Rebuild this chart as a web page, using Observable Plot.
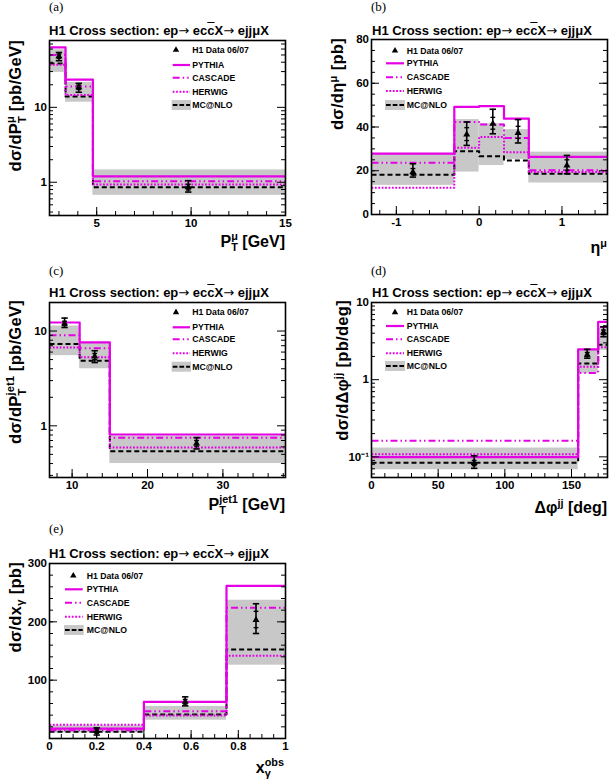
<!DOCTYPE html>
<html><head><meta charset="utf-8">
<script src="https://cdn.jsdelivr.net/npm/d3@7"></script>
<script src="https://cdn.jsdelivr.net/npm/@observablehq/plot@0.6"></script>
<style>
html,body{margin:0;padding:0;background:#fff}
#root{position:relative;width:610px;height:780px;overflow:hidden;font-family:"Liberation Sans",Arial,Helvetica,sans-serif;color:#000}
#root svg{position:absolute;overflow:visible}
.abs{position:absolute;white-space:nowrap}
.ttl{font-weight:bold;font-size:13px;line-height:1}
.arr{font-family:"DejaVu Sans",sans-serif;font-weight:normal}
.lbl{font-family:"Liberation Serif","Times New Roman",serif;font-size:13px;line-height:1}
.ax{font-weight:bold;font-size:16px;line-height:18px;height:18px}
.yt{transform-origin:0 0;transform:rotate(-90deg);width:220px;text-align:right;font-size:16.5px;letter-spacing:0.3px}
.ss{display:inline-block;font-size:.68em;line-height:1.03;vertical-align:-0.37em;text-align:left;letter-spacing:0}
.sp{font-size:.68em;vertical-align:0.55em}
.sb{font-size:.68em;vertical-align:-0.3em}
.ov{text-decoration:overline}
</style></head><body><div id="root"></div><script>
// ---------------- data ----------------
const modelNames = ["PYTHIA", "CASCADE", "HERWIG", "MC@NLO"];
const legendDataLabel = "H1 Data 06/07";
const titleParts = ["H1 Cross section: ep", "→", " ec", "c", "X", "→", " ejjμX"];

// (a) P_T^mu
const aEdges = [2.5, 3.35, 4.8, 15];
const aPythia = [63, 23.4, 1.2];
const aCascade = [50, 19, 1.03];
const aHerwig = [37, 14.6, 0.93];
const aMcnlo = [38.5, 14, 0.86];
const aBandLo = [29.3, 11.7, 0.67];
const aBandHi = [58.8, 21.5, 1.46];
const aDataX = [3.0, 4.05, 9.85];
const aData = [48, 18.5, 0.86];
const aTotLo = [41.9, 15.9, 0.74];
const aTotHi = [54, 20.9, 1.05];
const aStatLo = [45, 17.3, 0.79];
const aStatHi = [51.5, 19.8, 0.94];
const aXTicks = [5, 10, 15];
const aYTicks = [1, 10];

// (b) eta^mu
const bEdges = [-1.3, -0.3, 0, 0.3, 0.6, 1.55];
const bPythia = [27.8, 49.2, 49.5, 43.8, 26.3];
const bCascade = [23.7, 42.3, 41.1, 35, 20.2];
const bHerwig = [12.2, 30.5, 35.4, 28.5, 19.4];
const bMcnlo = [18.2, 28.9, 26.6, 24.7, 18.6];
const bBandLo = [13.3, 19.4, 22.4, 25.2, 14.4];
const bBandHi = [27.5, 43.4, 41.5, 38.8, 28.5];
const bDataX = [-0.8, -0.15, 0.165, 0.47, 1.06];
const bData = [19.4, 36.6, 41.5, 37.3, 22.4];
const bTotLo = [17.1, 31.6, 36.9, 32.7, 18.6];
const bTotHi = [23.2, 42.3, 48.1, 43.4, 27];
const bStatLo = [18.2, 33.8, 39.0, 34.8, 20.3];
const bStatHi = [21.0, 39.7, 44.4, 40.3, 25];
const bXTicks = [-1, 0, 1];
const bYTicks = [0, 20, 40, 60, 80];

// (c) P_T^jet1
const cEdges = [7, 11, 15, 38.3];
const cPythia = [12.3, 7.6, 0.81];
const cCascade = [9.0, 6.6, 0.75];
const cHerwig = [6.7, 5.3, 0.59];
const cMcnlo = [7.3, 4.85, 0.54];
const cBandLo = [5.5, 4.0, 0.40];
const cBandHi = [11.3, 7.5, 0.78];
const cDataX = [9, 13, 26.5];
const cData = [12.0, 5.4, 0.65];
const cTotLo = [10.9, 4.65, 0.57];
const cTotHi = [13.7, 6.2, 0.75];
const cStatLo = [11.4, 5.0, 0.61];
const cStatHi = [12.7, 5.8, 0.70];
const cXTicks = [10, 20, 30];
const cYTicks = [1, 10];

// (d) Delta phi^jj
const dEdges = [0, 155, 170, 177];
const dPythia = [0.099, 2.47, 5.6];
const dCascade = [0.162, 1.22, 4.8];
const dHerwig = [0.108, 1.47, 2.64];
const dMcnlo = [0.084, 1.62, 2.84];
const dBandLo = [0.068, 1.2, 2.4];
const dBandHi = [0.13, 2.45, 4.6];
const dDataX = [77, 161.8, 174];
const dData = [0.083, 2.1, 4.1];
const dTotLo = [0.071, 1.9, 3.6];
const dTotHi = [0.103, 2.47, 4.85];
const dStatLo = [0.077, 2.0, 3.85];
const dStatHi = [0.09, 2.25, 4.4];
const dXTicks = [0, 50, 100, 150];
const dYTicks = [0.1, 1, 10];

// (e) x_gamma^obs
const eEdges = [0, 0.4, 0.75, 1];
const ePythia = [17, 62.8, 261.7];
const eCascade = [14, 46.9, 224];
const eHerwig = [23.5, 39.5, 141.7];
const eMcnlo = [11.4, 41.1, 152.6];
const eBandLo = [9.5, 31.4, 125.7];
const eBandHi = [22, 55, 237];
const eDataX = [0.2, 0.575, 0.875];
const eData = [13, 62.9, 203];
const eTotLo = [6, 56, 180];
const eTotHi = [18.3, 71.4, 231];
const eStatLo = [9, 59, 190];
const eStatHi = [16, 67, 218];
const eXTicks = [0, 0.2, 0.4, 0.6, 0.8, 1];
const eYTicks = [100, 200, 300];

// ---------------- style ----------------
const modelColors = ["#e600e6", "#e600e6", "#e600e6", "#000000"];
const modelDash = [null, "7,3,1.5,3,1.5,3", "1.8,1.6", "5,3"];
const legendDash = [null, "7,3,1.5,3,1.5,3", "1.8,1.6", "4.7,2"];
const modelWidth = [2.2, 2, 2, 2];
const bandFill = "#c8c8c8";

const logMinor = (lo, hi) => {
  const out = [];
  for (let k = -3; k <= 3; k++) for (let m = 2; m <= 9; m++) {
    const v = m * Math.pow(10, k);
    if (v > lo && v < hi) out.push(v);
  }
  return out;
};
const sup = {"-": "⁻", "1": "¹"};

const panels = [
  {id: "(a)", left: 0, top: 0, m: [40, 20, 35, 49], xDomain: [2.5, 15], yType: "log", yDomain: [0.36, 78],
   edges: aEdges, models: [aPythia, aCascade, aHerwig, aMcnlo], bandLo: aBandLo, bandHi: aBandHi,
   dataX: aDataX, data: aData, totLo: aTotLo, totHi: aTotHi, statLo: aStatLo, statHi: aStatHi,
   xTicks: aXTicks, yTicks: aYTicks, xMinor: d3.range(3, 15, 1), yMinor: logMinor(0.36, 78),
   xFmt: d => String(d), yFmt: d => String(d),
   yTitle: 'dσ/dP<span class="ss">μ<br>T</span> [pb/GeV]', yTitleEnd: 40, yTitleX: 14,
   xTitle: 'P<span class="ss">μ<br>T</span> [GeV]', xTitleR: 285, xTitleY: 240,
   titleX: 49, titleY: 35, lblX: 49, lblY: 0,
   leg: {tri: 176, text: 192.3, l1: 172.7, l2: 190, rows: [50, 65, 77.7, 91.7, 105]}},
  {id: "(b)", left: 305, top: 0, m: [39, 3, 36, 66], xDomain: [-1.3, 1.55], yType: "linear", yDomain: [0, 80],
   edges: bEdges, models: [bPythia, bCascade, bHerwig, bMcnlo], bandLo: bBandLo, bandHi: bBandHi,
   dataX: bDataX, data: bData, totLo: bTotLo, totHi: bTotHi, statLo: bStatLo, statHi: bStatHi,
   xTicks: bXTicks, yTicks: bYTicks, xMinor: d3.range(-1.2, 1.55, 0.2), yMinor: d3.range(5, 80, 5),
   xFmt: d => String(d), yFmt: d => String(d),
   yTitle: 'dσ/dη<span class="sp">μ</span> [pb]', yTitleEnd: 38, yTitleX: 333,
   xTitle: 'η<span class="sp">μ</span>', xTitleR: 607, xTitleY: 243,
   titleX: 372, titleY: 35, lblX: 371, lblY: 0,
   leg: {tri: 395, text: 406.7, l1: 386, l2: 404, rows: [50.7, 63.3, 77.3, 91, 105]}},
  {id: "(c)", left: 0, top: 255, m: [47, 20, 28, 49], xDomain: [7, 38.3], yType: "log", yDomain: [0.285, 20],
   edges: cEdges, models: [cPythia, cCascade, cHerwig, cMcnlo], bandLo: cBandLo, bandHi: cBandHi,
   dataX: cDataX, data: cData, totLo: cTotLo, totHi: cTotHi, statLo: cStatLo, statHi: cStatHi,
   xTicks: cXTicks, yTicks: cYTicks, xMinor: d3.range(8, 38.3, 2), yMinor: logMinor(0.285, 20),
   xFmt: d => String(d), yFmt: d => String(d),
   yTitle: 'dσ/dP<span class="ss">jet1<br>T</span> [pb/GeV]', yTitleEnd: 300, yTitleX: 14,
   xTitle: 'P<span class="ss">jet1<br>T</span> [GeV]', xTitleR: 285, xTitleY: 503,
   titleX: 49, titleY: 297, lblX: 49, lblY: 264,
   leg: {tri: 176, text: 192.3, l1: 172.7, l2: 190, rows: [312.3, 327.3, 339.3, 353.3, 366.7]}},
  {id: "(d)", left: 305, top: 255, m: [47, 3, 28, 66], xDomain: [0, 177], yType: "log", yDomain: [0.054, 10],
   edges: dEdges, models: [dPythia, dCascade, dHerwig, dMcnlo], bandLo: dBandLo, bandHi: dBandHi,
   dataX: dDataX, data: dData, totLo: dTotLo, totHi: dTotHi, statLo: dStatLo, statHi: dStatHi,
   xTicks: dXTicks, yTicks: dYTicks, xMinor: d3.range(10, 177, 10), yMinor: logMinor(0.054, 10),
   xFmt: d => String(d), yFmt: d => d < 1 ? "10" + sup["-"] + sup["1"] : String(d),
   yTitle: 'dσ/dΔφ<span class="sp">jj</span> [pb/deg]', yTitleEnd: 300, yTitleX: 338,
   xTitle: 'Δφ<span class="sp">jj</span> [deg]', xTitleR: 607, xTitleY: 503,
   titleX: 372, titleY: 297, lblX: 371, lblY: 264,
   leg: {tri: 395, text: 406.7, l1: 386, l2: 404, rows: [312.3, 326, 339.3, 353.3, 366]}},
  {id: "(e)", left: 0, top: 510, m: [53, 20, 22, 49], xDomain: [0, 1], yType: "linear", yDomain: [0, 300],
   edges: eEdges, models: [ePythia, eCascade, eHerwig, eMcnlo], bandLo: eBandLo, bandHi: eBandHi,
   dataX: eDataX, data: eData, totLo: eTotLo, totHi: eTotHi, statLo: eStatLo, statHi: eStatHi,
   xTicks: eXTicks, yTicks: eYTicks, xMinor: d3.range(0.05, 1, 0.05), yMinor: d3.range(20, 300, 20),
   xFmt: d => (d === 0 || d === 1) ? String(d) : d.toFixed(1), yFmt: d => String(d),
   yTitle: 'dσ/dx<span class="sb">γ</span> [pb]', yTitleEnd: 562, yTitleX: 15,
   xTitle: 'x<span class="ss">obs<br>γ</span>', xTitleR: 284, xTitleY: 766,
   titleX: 49, titleY: 558, lblX: 49, lblY: 522,
   leg: {tri: 73.3, text: 86.7, l1: 65, l2: 82.7, rows: [575.7, 589.3, 602.7, 616.7, 630]}}
];

const root = document.getElementById("root");
const W = 305, H = 250;

const capSym = {draw(ctx, size) { const r = Math.sqrt(size / Math.PI); ctx.moveTo(-r, 0); ctx.lineTo(r, 0); }};

function addHTML(cls, html, css) {
  const d = document.createElement("div");
  d.className = "abs " + cls;
  d.innerHTML = html;
  Object.assign(d.style, css);
  root.appendChild(d);
  return d;
}
const titleHTML = titleParts[0] + '<span class="arr">' + titleParts[1] + '</span>' + titleParts[2] +
  '<span class="ov">' + titleParts[3] + '</span>' + titleParts[4] + '<span class="arr">' + titleParts[5] + '</span>' + titleParts[6];

for (const p of panels) {
  const [mt, mr, mb, ml] = p.m;
  const fw = W - ml - mr, fh = H - mt - mb;
  const steps = vals => {
    const pts = vals.map((v, i) => ({x: p.edges[i], y: v}));
    pts.push({x: p.edges[p.edges.length - 1], y: vals[vals.length - 1]});
    return pts;
  };
  const bins = p.bandLo.map((lo, i) => ({x1: p.edges[i], x2: p.edges[i + 1], lo, hi: p.bandHi[i]}));
  const pts = p.dataX.map((x, i) => ({x, y: p.data[i], tlo: p.totLo[i], thi: p.totHi[i], slo: p.statLo[i], shi: p.statHi[i]}));
  const caps = pts.flatMap(d => [{x: d.x, y: d.tlo}, {x: d.x, y: d.thi}]);
  const scaps = pts.flatMap(d => [{x: d.x, y: d.slo}, {x: d.x, y: d.shi}]);
  const lines = [3, 2, 1, 0].map(k => Plot.line(steps(p.models[k]), {
    x: "x", y: "y", curve: "step-after", stroke: modelColors[k], strokeWidth: modelWidth[k],
    strokeDasharray: modelDash[k] ?? undefined, strokeLinecap: "butt"
  }));
  const svg = Plot.plot({
    width: W, height: H,
    marginTop: mt, marginRight: mr, marginBottom: mb, marginLeft: ml,
    x: {domain: p.xDomain},
    y: {type: p.yType, domain: p.yDomain},
    style: {fontFamily: '"Liberation Sans", Arial, sans-serif', fontSize: "11.5px", fontWeight: "bold", color: "black", background: "transparent", overflow: "visible"},
    marks: [
      Plot.rect(bins, {x1: "x1", x2: "x2", y1: "lo", y2: "hi", fill: bandFill}),
      ...lines,
      Plot.ruleX(pts, {x: "x", y1: "tlo", y2: "thi", stroke: "black", strokeWidth: 1.6}),
      Plot.dot(caps, {x: "x", y: "y", symbol: capSym, r: 3.2, stroke: "black", strokeWidth: 1.6}),
      Plot.dot(scaps, {x: "x", y: "y", symbol: capSym, r: 2.4, stroke: "black", strokeWidth: 1.4}),
      Plot.dot(pts, {x: "x", y: "y", symbol: "triangle", r: 2.6, fill: "black"}),
      Plot.ruleX(p.xTicks, {stroke: "black", strokeWidth: 1, insetTop: fh - 8}),
      Plot.ruleX(p.xMinor, {stroke: "black", strokeWidth: 1, insetTop: fh - 4}),
      Plot.ruleY(p.yTicks, {stroke: "black", strokeWidth: 1, insetRight: fw - 8}),
      Plot.ruleY(p.yTicks, {stroke: "black", strokeWidth: 1, insetLeft: fw - 8}),
      Plot.ruleY(p.yMinor, {stroke: "black", strokeWidth: 1, insetRight: fw - 4}),
      Plot.ruleY(p.yMinor, {stroke: "black", strokeWidth: 1, insetLeft: fw - 4}),
      Plot.axisX({ticks: p.xTicks, tickSize: 0, tickPadding: 3, tickFormat: p.xFmt}),
      Plot.axisY({ticks: p.yTicks, tickSize: 0, tickPadding: 2.5, tickFormat: p.yFmt}),
      Plot.frame({stroke: "black", strokeWidth: 1.6})
    ]
  });
  svg.style.left = p.left + "px";
  svg.style.top = p.top + "px";
  root.appendChild(svg);

  // texts
  addHTML("ttl", titleHTML, {left: p.titleX + "px", top: (p.titleY - 11) + "px"});
  addHTML("lbl", p.id, {left: p.lblX + "px", top: p.lblY + "px"});
  addHTML("ax yt", p.yTitle, {left: (p.yTitleX - 9) + "px", top: (p.yTitleEnd + 220) + "px"});
  addHTML("ax", p.xTitle, {right: (610 - p.xTitleR) + "px", top: (p.xTitleY - 9) + "px"});
}

// legends overlay
const ov = d3.select(root).append("svg")
  .attr("width", 610).attr("height", 780)
  .style("left", "0px").style("top", "0px").style("pointer-events", "none");
for (const p of panels) {
  const L = p.leg;
  const g = ov.append("g")
    .attr("font-family", '"Liberation Sans", Arial, sans-serif')
    .attr("font-weight", "bold").attr("font-size", 8.7);
  g.append("path").attr("d", d3.symbol(d3.symbolTriangle, Math.PI * 2.4 * 2.4)())
    .attr("transform", `translate(${L.tri},${L.rows[0]})`).attr("fill", "black");
  g.append("text").attr("x", L.text).attr("y", L.rows[0]).attr("dy", "0.35em").text(legendDataLabel);
  modelNames.forEach((name, k) => {
    const y = L.rows[k + 1];
    if (k === 3) g.append("rect").attr("x", L.l1 - 1).attr("y", y - 5).attr("width", L.l2 - L.l1 + 2).attr("height", 10).attr("fill", bandFill);
    g.append("line").attr("x1", L.l1).attr("x2", L.l2).attr("y1", y).attr("y2", y)
      .attr("stroke", modelColors[k]).attr("stroke-width", modelWidth[k])
      .attr("stroke-dasharray", legendDash[k]);
    g.append("text").attr("x", L.text).attr("y", y).attr("dy", "0.35em").text(name);
  });
}
</script></body></html>
